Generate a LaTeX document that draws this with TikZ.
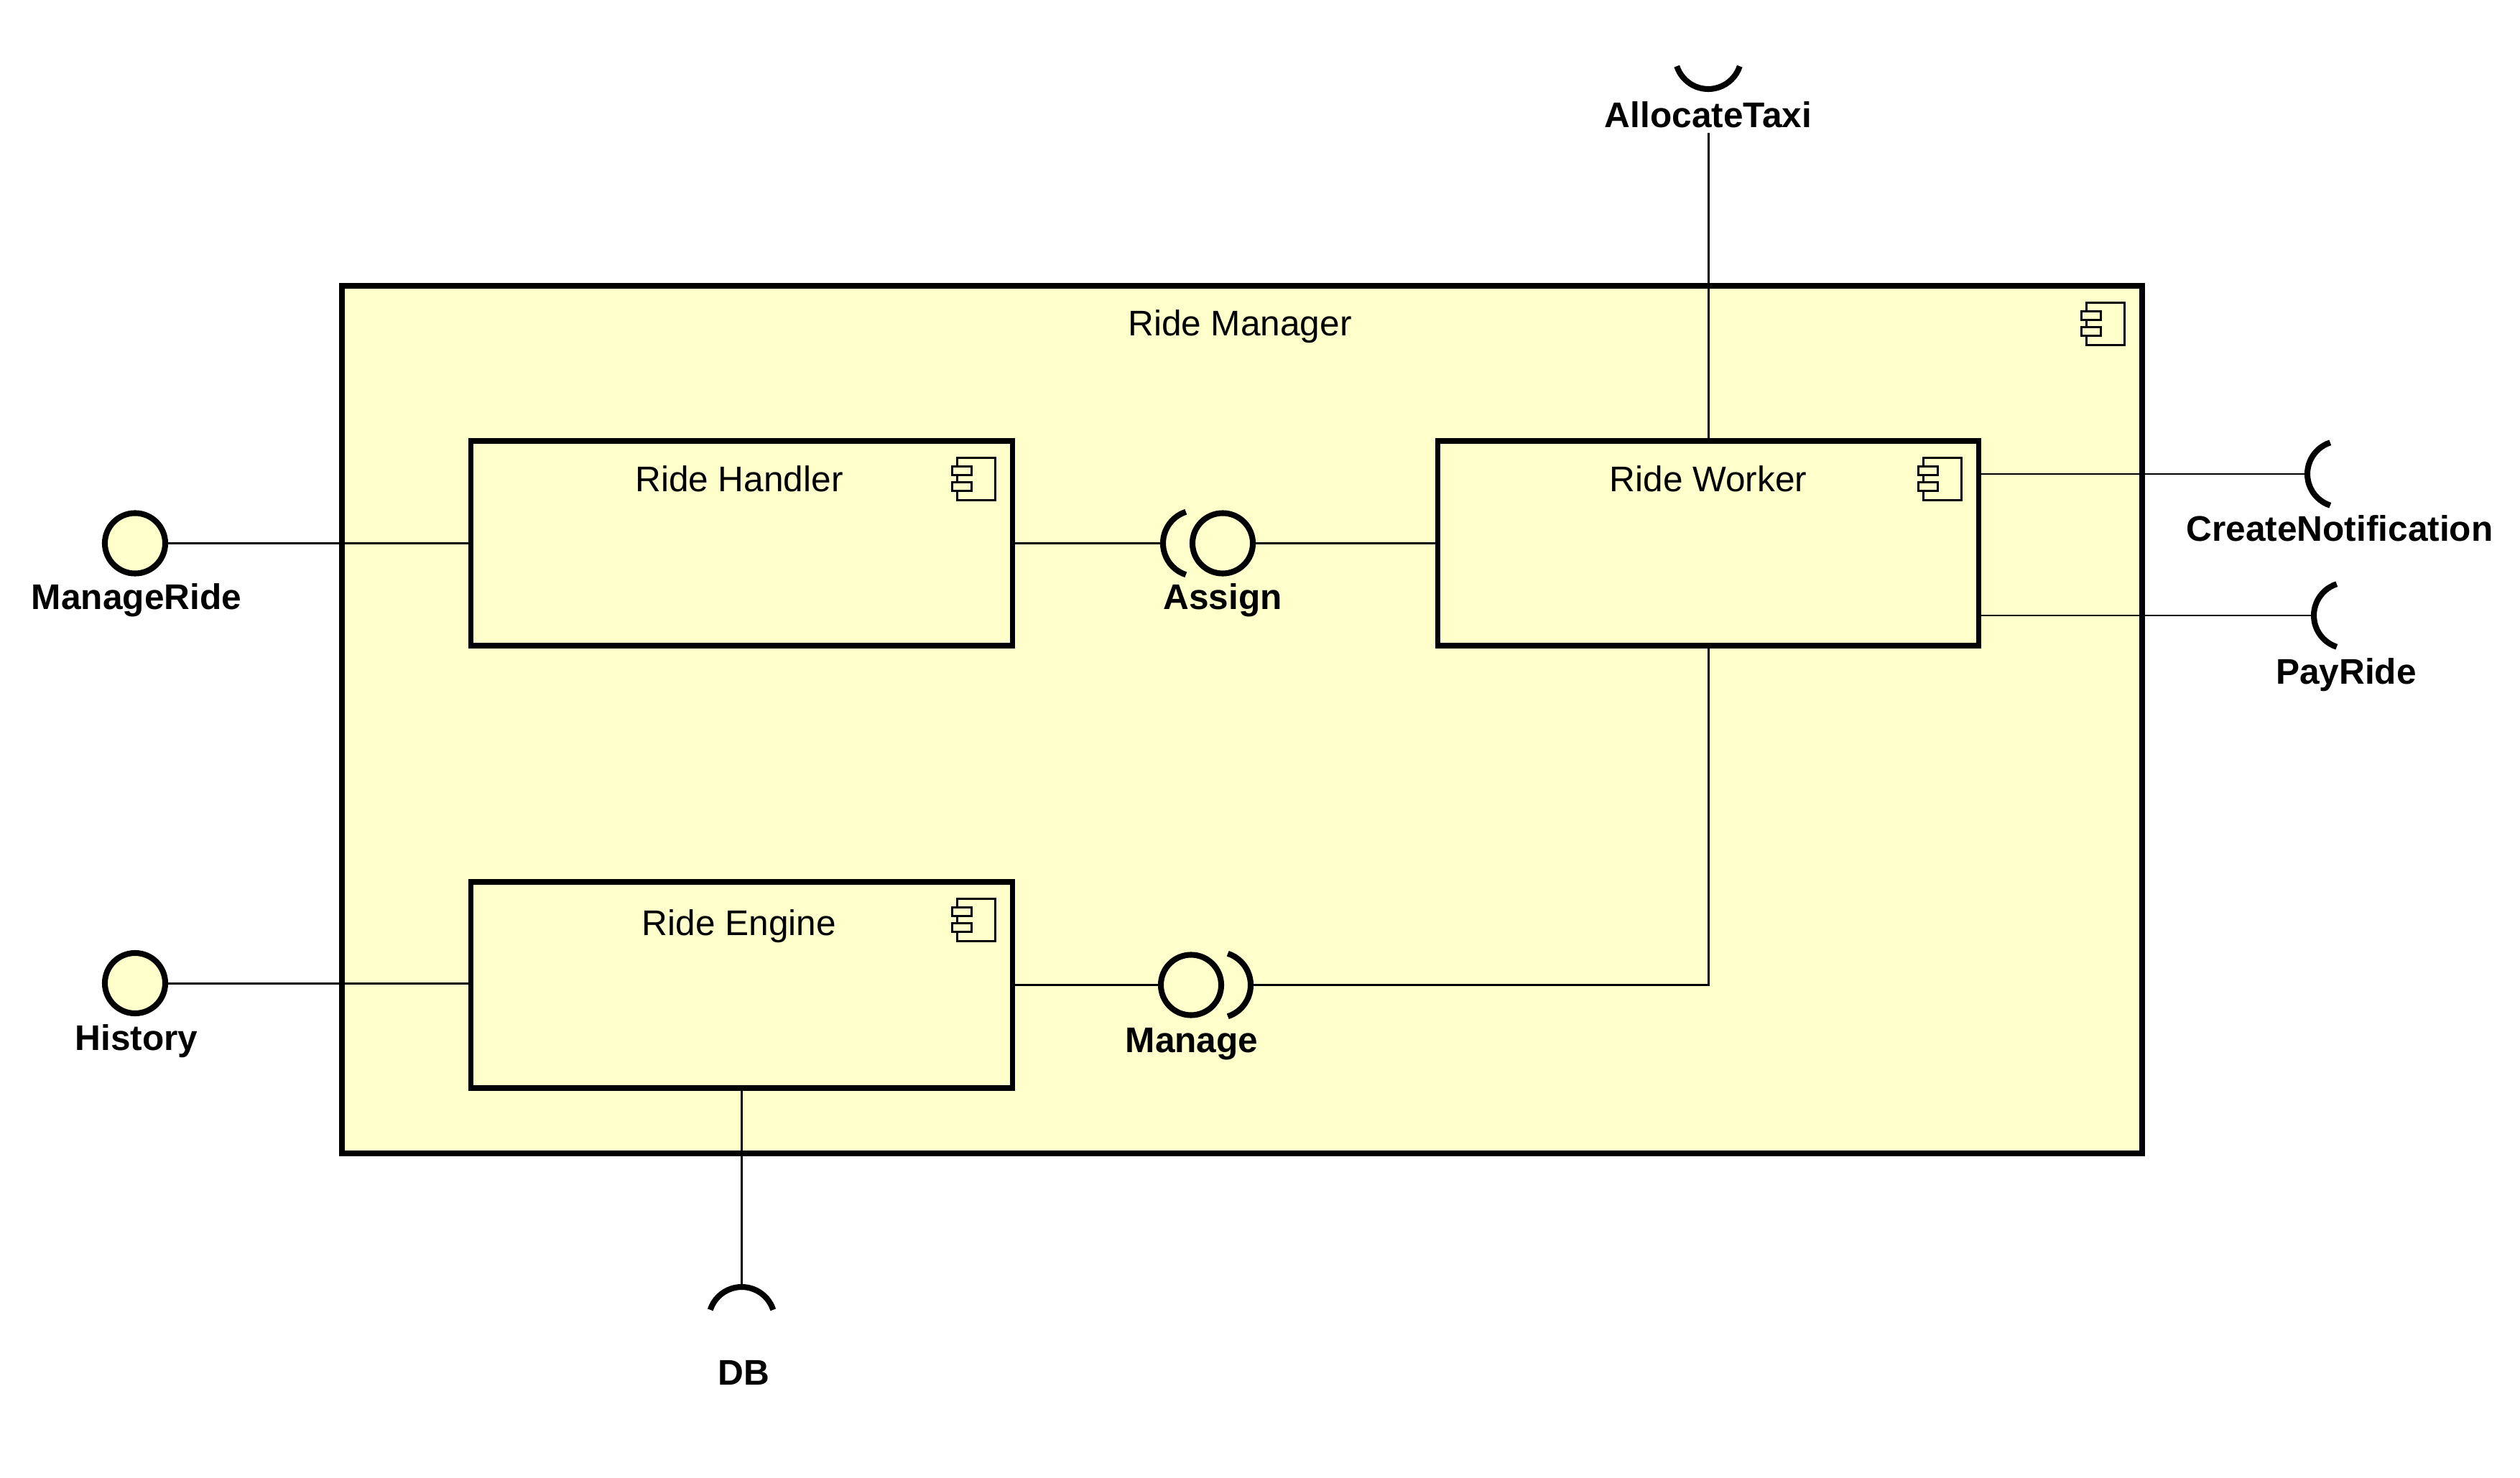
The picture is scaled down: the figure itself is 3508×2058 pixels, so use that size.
\documentclass[tikz,border=0pt]{standalone}
\usepackage{fontspec}
\setmainfont{Liberation Sans}
\definecolor{compfill}{HTML}{FFFFCC}
\begin{document}
\begin{tikzpicture}[x=0.01cm,y=0.01cm,
  box/.style={draw,fill=compfill,line width=2.1pt,outer sep=0pt,inner sep=0pt,rectangle},
  outerbox/.style={box,line width=2.3pt},
  conn/.style={line width=0.85pt},
  ball/.style={draw,fill=compfill,circle,line width=2.3pt,minimum size=0.84cm,inner sep=0pt,outer sep=0pt},
  socketline/.style={line width=2.3pt},
  txt/.style={anchor=base,inner sep=0pt,font=\fontsize{14.1pt}{16pt}\selectfont},
  ilabel/.style={anchor=base,inner sep=0pt,font=\fontsize{14.1pt}{16pt}\selectfont\bfseries},
  compicon/.pic={
    \draw[line width=0.85pt] (-77,-24) rectangle (-24,-83);
    \draw[line width=0.85pt,fill=compfill] (-84,-36) rectangle (-57,-48);
    \draw[line width=0.85pt,fill=compfill] (-84,-58) rectangle (-57,-70);
  }
]
\useasboundingbox (0,0) rectangle (3508,-2058);
\fill[white] (0,0) rectangle (3508,-2058);

% outer component
\node[outerbox,minimum width=25.04cm,minimum height=12.08cm] (manager) at (1729,-1002) {};
\pic at (manager.north east) {compicon};
\node[txt] (managerlbl) at (1726,-468) {Ride Manager};

% inner components
\node[box,minimum width=7.53cm,minimum height=2.85cm] (handler) at (1032.5,-756.5) {};
\pic at (handler.north east) {compicon};
\node[txt] (handlerlbl) at (1029,-684) {Ride Handler};

\node[box,minimum width=7.52cm,minimum height=2.85cm] (worker) at (2378,-756.5) {};
\pic at (worker.north east) {compicon};
\node[txt] (workerlbl) at (2378,-684) {Ride Worker};

\node[box,minimum width=7.53cm,minimum height=2.87cm] (engine) at (1032.5,-1371.5) {};
\pic at (engine.north east) {compicon};
\node[txt] (enginelbl) at (1029,-1302) {Ride Engine};

% ManageRide (provided)
\node[ball] (mr) at (188,-756.5) {};
\node[ilabel] (mrlbl) at (190,-848) {ManageRide};
\draw[conn] (mr.east) -- (handler.west |- mr.east);

% History (provided)
\node[ball] (hist) at (188,-1369) {};
\node[ilabel] (histlbl) at (190,-1462) {History};
\draw[conn] (hist.east) -- (engine.west |- hist.east);

% Assign (assembly)
\node[ball] (assign) at (1702,-756.5) {};
\coordinate (assignsock) at (1665,-756.5);
\coordinate (assignL) at (1619,-756.5);
\draw[socketline] (assignsock) ++(108:46) arc[start angle=108,end angle=252,radius=46];
\node[ilabel] (assignlbl) at (1702,-848) {Assign};
\draw[conn] (handler.east) -- (assignL);
\draw[conn] (assign.east) -- (worker.west |- assign.east);

% Manage (assembly)
\node[ball] (manage) at (1658,-1371.5) {};
\coordinate (managesock) at (1695,-1371.5);
\coordinate (manageR) at (1741,-1371.5);
\draw[socketline] (managesock) ++(-72:46) arc[start angle=-72,end angle=72,radius=46];
\node[ilabel] (managelbl) at (1659,-1465) {Manage};
\draw[conn] (engine.east) -- (manage.west);
\draw[conn] (manageR) -- (worker.south |- manageR) -- (worker.south);

% AllocateTaxi (required)
\coordinate (atsock) at (2378,-78);
\coordinate (atend) at (2378,-185);
\draw[socketline] (atsock) ++(198:46) arc[start angle=198,end angle=342,radius=46];
\node[ilabel] (atlbl) at (2378,-178) {AllocateTaxi};
\draw[conn] (worker.north) -- (atend);

% DB (required)
\coordinate (dbsock) at (1032.5,-1838);
\coordinate (dbtop) at (1032.5,-1792);
\draw[socketline] (dbsock) ++(18:46) arc[start angle=18,end angle=162,radius=46];
\node[ilabel] (dblbl) at (1035,-1928) {DB};
\draw[conn] (engine.south) -- (dbtop);

% CreateNotification (required)
\coordinate (cnsock) at (3258,-660);
\coordinate (cnL) at (3212,-660);
\draw[socketline] (cnsock) ++(108:46) arc[start angle=108,end angle=252,radius=46];
\node[ilabel] (cnlbl) at (3257,-753) {CreateNotification};
\draw[conn] (worker.east |- cnL) -- (cnL);

% PayRide (required)
\coordinate (prsock) at (3267,-857);
\coordinate (prL) at (3221,-857);
\draw[socketline] (prsock) ++(108:46) arc[start angle=108,end angle=252,radius=46];
\node[ilabel] (prlbl) at (3266,-952) {PayRide};
\draw[conn] (worker.east |- prL) -- (prL);
\end{tikzpicture}
\end{document}
